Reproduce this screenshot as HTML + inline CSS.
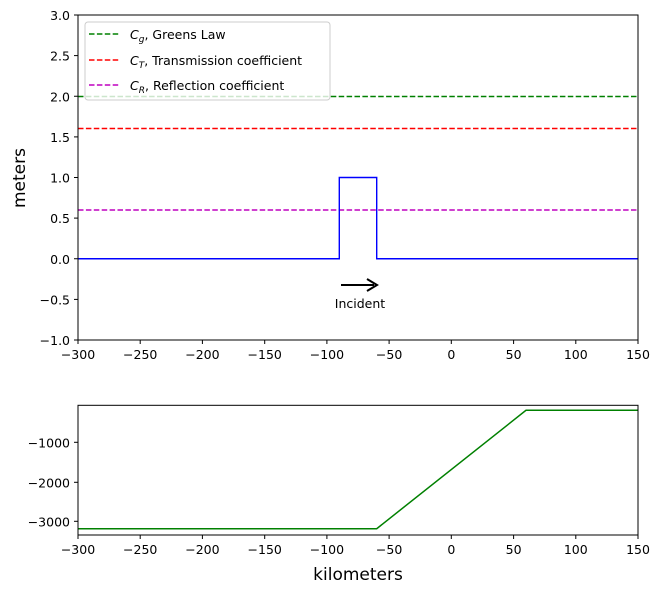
<!DOCTYPE html>
<html><head><style>body{margin:0;background:#fff}svg{display:block;font-family:"DejaVu Sans","Liberation Sans",sans-serif}</style></head>
<body>
<svg width="661" height="593" viewBox="0 0 661 593" xmlns="http://www.w3.org/2000/svg">
<rect width="661" height="593" fill="#fff"/>
<g fill="none" stroke-width="1.4">
<line x1="78" y1="96.5" x2="638" y2="96.5" stroke="#008000" stroke-dasharray="5.5,2.4"/>
<line x1="78" y1="128.5" x2="638" y2="128.5" stroke="#ff0000" stroke-dasharray="5.5,2.4"/>
<line x1="78" y1="210" x2="638" y2="210" stroke="#bf00bf" stroke-dasharray="5.5,2.4"/>
<polyline points="78,258.75 339.3,258.75 339.3,177.5 376.7,177.5 376.7,258.75 638,258.75" stroke="#0000ff"/>
</g>
<line x1="341" y1="285" x2="374" y2="285" stroke="#000" stroke-width="2"/>
<path d="M367,279 L377,285 L367,291" fill="none" stroke="#000" stroke-width="2"/>
<text x="360" y="308" font-size="12.5" text-anchor="middle">Incident</text>
<rect x="85" y="22" width="245" height="78" rx="3" fill="#fff" fill-opacity="0.8" stroke="#ccc"/>
<g stroke-width="1.5" stroke-dasharray="5.5,2.4">
<line x1="89" y1="34" x2="119" y2="34" stroke="#008000"/>
<line x1="89" y1="60" x2="119" y2="60" stroke="#ff0000"/>
<line x1="89" y1="85" x2="119" y2="85" stroke="#bf00bf"/>
</g>
<g font-size="12.5">
<text x="130" y="39"><tspan font-style="italic">C</tspan><tspan font-size="9" font-style="italic" dy="3">g</tspan><tspan dy="-3">, Greens Law</tspan></text>
<text x="130" y="65"><tspan font-style="italic">C</tspan><tspan font-size="9" font-style="italic" dy="3">T</tspan><tspan dy="-3">, Transmission coefficient</tspan></text>
<text x="130" y="90"><tspan font-style="italic">C</tspan><tspan font-size="9" font-style="italic" dy="3">R</tspan><tspan dy="-3">, Reflection coefficient</tspan></text>
</g>
<rect x="78" y="15" width="560" height="325" fill="none" stroke="#000" stroke-width="1"/>
<g stroke="#000">
<line x1="74" y1="15" x2="78" y2="15"/><line x1="74" y1="55.6" x2="78" y2="55.6"/><line x1="74" y1="96.25" x2="78" y2="96.25"/><line x1="74" y1="136.9" x2="78" y2="136.9"/><line x1="74" y1="177.5" x2="78" y2="177.5"/><line x1="74" y1="218.1" x2="78" y2="218.1"/><line x1="74" y1="258.75" x2="78" y2="258.75"/><line x1="74" y1="299.4" x2="78" y2="299.4"/><line x1="74" y1="340" x2="78" y2="340"/>
</g>
<g font-size="12.5" text-anchor="end">
<text x="70" y="20">3.0</text><text x="70" y="60.6">2.5</text><text x="70" y="101.25">2.0</text><text x="70" y="141.9">1.5</text><text x="70" y="182.5">1.0</text><text x="70" y="223.1">0.5</text><text x="70" y="263.75">0.0</text><text x="70" y="304.4">−0.5</text><text x="70" y="345">−1.0</text>
</g>
<text transform="translate(25,178) rotate(-90)" font-size="17" text-anchor="middle">meters</text>
<g stroke="#000">
<line x1="78" y1="340" x2="78" y2="344"/><line x1="140.2" y1="340" x2="140.2" y2="344"/><line x1="202.4" y1="340" x2="202.4" y2="344"/><line x1="264.7" y1="340" x2="264.7" y2="344"/><line x1="326.9" y1="340" x2="326.9" y2="344"/><line x1="389.1" y1="340" x2="389.1" y2="344"/><line x1="451.3" y1="340" x2="451.3" y2="344"/><line x1="513.6" y1="340" x2="513.6" y2="344"/><line x1="575.8" y1="340" x2="575.8" y2="344"/><line x1="638" y1="340" x2="638" y2="344"/>
</g>
<g font-size="12.5" text-anchor="middle">
<text x="78" y="359">−300</text><text x="140.2" y="359">−250</text><text x="202.4" y="359">−200</text><text x="264.7" y="359">−150</text><text x="326.9" y="359">−100</text><text x="389.1" y="359">−50</text><text x="451.3" y="359">0</text><text x="513.6" y="359">50</text><text x="575.8" y="359">100</text><text x="638" y="359">150</text>
</g>
<polyline points="78,528.7 376.7,528.7 526,410.3 638,410.3" fill="none" stroke="#008000" stroke-width="1.5"/>
<rect x="78" y="405.3" width="560" height="129.7" fill="none" stroke="#000"/>
<g stroke="#000">
<line x1="74" y1="442.3" x2="78" y2="442.3"/><line x1="74" y1="482.3" x2="78" y2="482.3"/><line x1="74" y1="521.3" x2="78" y2="521.3"/>
</g>
<g font-size="12.5" text-anchor="end">
<text x="70" y="447.3">−1000</text><text x="70" y="487.3">−2000</text><text x="70" y="526.3">−3000</text>
</g>
<g stroke="#000">
<line x1="78" y1="535" x2="78" y2="539"/><line x1="140.2" y1="535" x2="140.2" y2="539"/><line x1="202.4" y1="535" x2="202.4" y2="539"/><line x1="264.7" y1="535" x2="264.7" y2="539"/><line x1="326.9" y1="535" x2="326.9" y2="539"/><line x1="389.1" y1="535" x2="389.1" y2="539"/><line x1="451.3" y1="535" x2="451.3" y2="539"/><line x1="513.6" y1="535" x2="513.6" y2="539"/><line x1="575.8" y1="535" x2="575.8" y2="539"/><line x1="638" y1="535" x2="638" y2="539"/>
</g>
<g font-size="12.5" text-anchor="middle">
<text x="78" y="554">−300</text><text x="140.2" y="554">−250</text><text x="202.4" y="554">−200</text><text x="264.7" y="554">−150</text><text x="326.9" y="554">−100</text><text x="389.1" y="554">−50</text><text x="451.3" y="554">0</text><text x="513.6" y="554">50</text><text x="575.8" y="554">100</text><text x="638" y="554">150</text>
</g>
<text x="358" y="580" font-size="17" text-anchor="middle">kilometers</text>
</svg>
</body></html>
